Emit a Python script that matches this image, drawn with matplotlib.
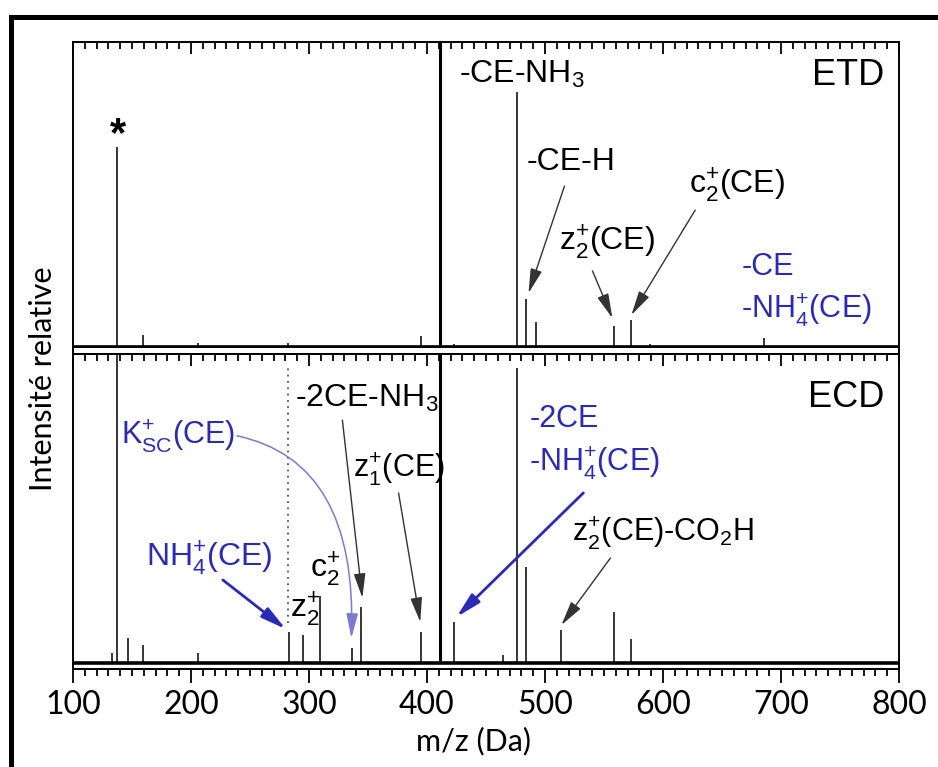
import matplotlib
matplotlib.use("Agg")
import matplotlib.pyplot as plt
from matplotlib.ticker import MultipleLocator
from matplotlib.lines import Line2D

# ---------------- data ----------------
etd_mz = [137.5, 159.5, 206, 282, 395, 411.3, 422.6, 476.5, 484.1, 492.0, 558.4, 573.3, 589, 686]
etd_int = [65.6, 3.6, 1.0, 1.0, 3.3, 120, 0.8, 83.7, 15.5, 8.0, 6.6, 8.6, 0.8, 2.6]

ecd_mz = [132.7, 137.5, 146.6, 159.3, 206, 282.9, 295, 309, 336.5, 344.4, 395.3, 411.3,
          422.9, 464, 476.5, 484, 513.2, 558.1, 573]
ecd_int = [3.1, 120, 8.0, 5.7, 3.1, 9.9, 9.0, 21.6, 4.8, 18.1, 10.0, 120,
           13.3, 2.5, 95.5, 31.1, 10.6, 16.5, 7.7]

precursor_mz = 411.3
dotted_mz = 281.8
x_ticks = [100, 200, 300, 400, 500, 600, 700, 800]

# ---------------- styling ----------------
plt.rcParams['mathtext.fontset'] = 'custom'
plt.rcParams['mathtext.rm'] = 'Liberation Sans'
plt.rcParams['mathtext.it'] = 'Liberation Sans:italic'
plt.rcParams['mathtext.bf'] = 'Liberation Sans:bold'
plt.rcParams['font.family'] = ['Liberation Sans', 'DejaVu Sans']

W, H = 938, 767
fig = plt.figure(figsize=(W / 100, H / 100), dpi=100)

def fx(px):
    return px / W

def fy(py):
    return 1 - py / H

BLUE = '#2a2ab4'
LBLUE = '#7b7bd0'
LAB = 23
BIG = 26

ax1 = fig.add_axes([fx(73), fy(347), fx(899) - fx(73), fy(42) - fy(347)])
ax2 = fig.add_axes([fx(73), fy(669), fx(899) - fx(73), fy(354) - fy(669)])

for ax in (ax1, ax2):
    ax.set_xlim(100, 800)
    ax.xaxis.set_major_locator(MultipleLocator(100))
    ax.xaxis.set_minor_locator(MultipleLocator(10))
    ax.set_yticks([])
    for s in ax.spines.values():
        s.set_linewidth(1.4)
    ax.patch.set_alpha(0)

ax1.set_ylim(-0.33, 100)
ax2.set_ylim(-2.04, 100)

# top panel: ticks only on top, inward
ax1.tick_params(axis='x', which='both', top=True, bottom=False, labeltop=False,
                labelbottom=False, direction='in', width=1.3)
ax1.tick_params(axis='x', which='major', length=8.4)
ax1.tick_params(axis='x', which='minor', length=4.8)

# bottom panel: outward at bottom with labels
ax2.tick_params(axis='x', which='both', top=False, bottom=True, labelbottom=True,
                direction='out', width=1.3)
ax2.tick_params(axis='x', which='major', length=9.8, pad=5, labelsize=23)
ax2.tick_params(axis='x', which='minor', length=5)
ax2.set_xticks(x_ticks)
ax2.set_xticklabels([str(t) for t in x_ticks], family='Lato')
# inward top ticks for bottom panel
sec = ax2.secondary_xaxis('top')
sec.xaxis.set_major_locator(MultipleLocator(100))
sec.xaxis.set_minor_locator(MultipleLocator(10))
sec.tick_params(axis='x', which='both', direction='in', labeltop=False, width=1.3)
sec.tick_params(axis='x', which='major', length=8.4)
sec.tick_params(axis='x', which='minor', length=4.8)
sec.spines['top'].set_linewidth(1.4)

# ---------------- spectra ----------------
def draw(ax, mz, inten):
    thin_x = [m for m, v in zip(mz, inten) if abs(m - precursor_mz) > 0.5]
    thin_y = [v for m, v in zip(mz, inten) if abs(m - precursor_mz) > 0.5]
    ax.vlines(thin_x, 0, thin_y, colors='black', lw=1.1, zorder=3)
    pre_y = [v for m, v in zip(mz, inten) if abs(m - precursor_mz) <= 0.5]
    ax.vlines([precursor_mz] * len(pre_y), 0, pre_y, colors='black', lw=2.2, zorder=3)

draw(ax1, etd_mz, etd_int)
draw(ax2, ecd_mz, ecd_int)
ax1.axhline(0, color='black', lw=1.2, zorder=2)
ax2.axhline(0, color='black', lw=2.6, zorder=2)
ax2.vlines([dotted_mz], 12.9, 95.5, colors='#4a4a80', lw=1.3, linestyles=(0, (1, 2.5)))

# ---------------- annotations: ETD ----------------
ax1.text(138.5, 69.5, '*', fontsize=30, fontweight='bold', ha='center', va='center')
ax1.text(426.7, 86.5, r'-CE-NH$\mathregular{_{3}}$', fontsize=LAB, va='baseline')
ax1.text(484.3, 57.9, '-CE-H', fontsize=LAB, va='baseline')
ax1.text(622.3, 50.2, r'c$\mathregular{_{2}^{+}}$(CE)', fontsize=LAB, va='baseline')
ax1.text(512.2, 31.6, r'z$\mathregular{_{2}^{+}}$(CE)', fontsize=LAB, va='baseline')
ax1.text(666.3, 23.4, '-CE', fontsize=LAB - 1, va='baseline', color=BLUE)
ax1.text(666.3, 9.4, r'-NH$\mathregular{_{4}^{+}}$(CE)', fontsize=LAB - 1, va='baseline', color=BLUE)
ax1.text(787.3, 85.9, 'ETD', fontsize=BIG, ha='right', va='baseline')

def arrow(ax, tail, head, color='#333333', lw=1.0, conn='arc3'):
    ax.annotate('', xy=head, xytext=tail,
                arrowprops=dict(arrowstyle='-|>,head_length=0.75,head_width=0.18',
                                mutation_scale=20, color=color, lw=lw,
                                shrinkA=0, shrinkB=0, connectionstyle=conn))

arrow(ax1, (516.5, 52.6), (486.0, 17.4))
arrow(ax1, (540.2, 24.7), (557.1, 9.2))
arrow(ax1, (627.3, 44.7), (573.2, 10.2))

# ---------------- annotations: ECD ----------------
ax2.text(787.3, 82.8, 'ECD', fontsize=BIG, ha='right', va='baseline')
ax2.text(287.9, 82.9, r'-2CE-NH$\mathregular{_{3}}$', fontsize=LAB, va='baseline')
ax2.text(140.5, 71.1, r'K$\mathregular{_{SC}^{+}}$(CE)', fontsize=LAB - 1, va='baseline', color=BLUE)
ax2.text(337.5, 60.3, r'z$\mathregular{_{1}^{+}}$(CE)', fontsize=LAB - 1, va='baseline')
ax2.text(161.8, 31.3, r'NH$\mathregular{_{4}^{+}}$(CE)', fontsize=LAB, va='baseline', color=BLUE)
ax2.text(300.6, 27.7, r'c$\mathregular{_{2}^{+}}$', fontsize=LAB, va='baseline')
ax2.text(283.7, 14.9, r'z$\mathregular{_{2}^{+}}$', fontsize=LAB, va='baseline')
ax2.text(486.8, 76.2, '-2CE', fontsize=LAB - 1, va='baseline', color=BLUE)
ax2.text(486.8, 62.4, r'-NH$\mathregular{_{4}^{+}}$(CE)', fontsize=LAB - 1, va='baseline', color=BLUE)
ax2.text(523.2, 39.7, r'z$\mathregular{_{2}^{+}}$(CE)-CO$\mathregular{_{2}}$H', fontsize=LAB - 1,
         va='baseline')

arrow(ax2, (328.3, 78.6), (345.2, 21.0))
arrow(ax2, (375.9, 55.0), (394.3, 13.2))
arrow(ax2, (227.0, 26.8), (280.3, 10.9), color=BLUE, lw=2.0)
arrow(ax2, (532.5, 55.0), (425.0, 14.8), color=BLUE, lw=2.0)
arrow(ax2, (555.4, 33.9), (513.9, 12.2))
ax2.annotate('', xy=(335.9, 8.0), xytext=(239.0, 73.5),
             arrowprops=dict(arrowstyle='-|>,head_length=0.75,head_width=0.18',
                             mutation_scale=20, color=LBLUE, lw=1.1,
                             shrinkA=0, shrinkB=0,
                             connectionstyle='angle3,angleA=-12,angleB=-92'))

# ---------------- axis labels ----------------
fig.text(fx(43), fy(379), 'Intensité relative', rotation=90, ha='center', va='center',
         fontsize=22, family='Lato')
fig.text(fx(473), fy(741), 'm/z (Da)', ha='center', va='center', fontsize=22, family='Lato')

# continuous side spines across the gap
fig.add_artist(Line2D([fx(73), fx(73)], [fy(347), fy(354)], color='black', lw=1.4))
fig.add_artist(Line2D([fx(899), fx(899)], [fy(347), fy(354)], color='black', lw=1.4))

# outer frame (left and top)
fig.add_artist(Line2D([fx(10.5), fx(10.5)], [fy(767), fy(17)], color='black', lw=3.6,
                      solid_capstyle='projecting'))
fig.add_artist(Line2D([fx(10.5), fx(938)], [fy(17), fy(17)], color='black', lw=3.6,
                      solid_capstyle='projecting'))

fig.savefig('out.png', dpi=100)
